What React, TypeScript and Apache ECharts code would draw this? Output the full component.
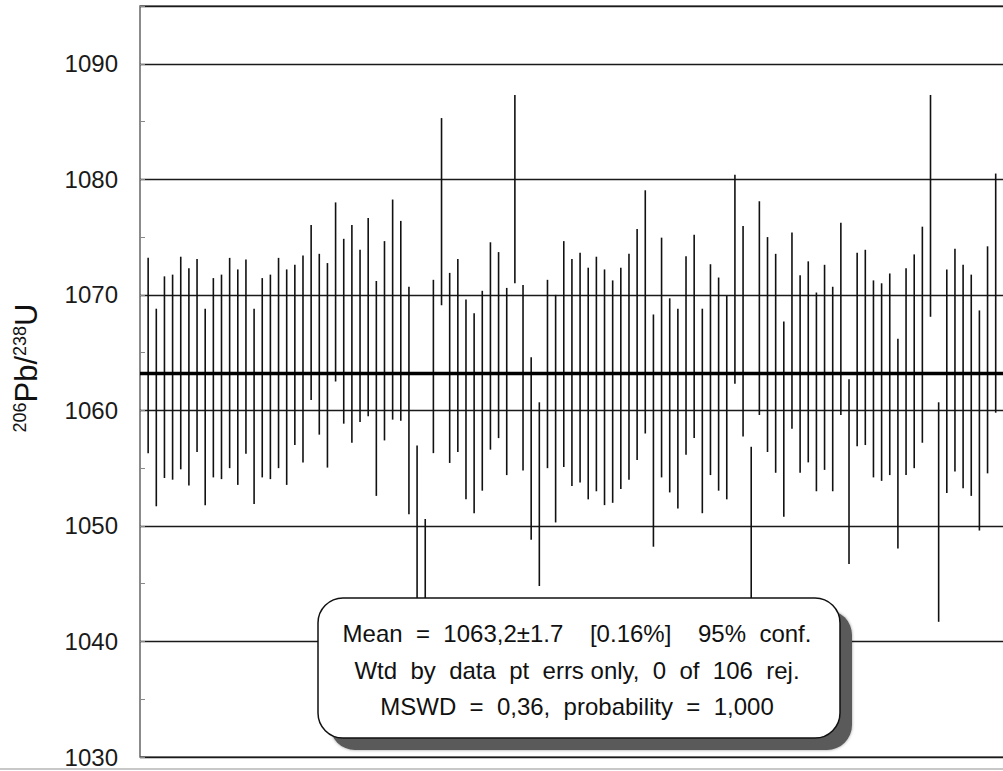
import React, { useEffect, useRef } from "react";
import * as echarts from "echarts";

// Lower and upper ends of each 2-sigma error bar (206Pb/238U age, Ma), analyses 1..106
const lowValues = [
  1056.3, 1051.7, 1054.15, 1054.0, 1054.9, 1053.5, 1056.4, 1051.8, 1054.2, 1054.05,
  1055.0, 1053.55, 1056.25, 1051.9, 1054.2, 1054.05, 1055.0, 1053.55, 1057.0, 1055.5,
  1060.9, 1057.9, 1055.05, 1062.5, 1058.85, 1057.2, 1059.0, 1059.5, 1052.6, 1057.4,
  1059.2, 1059.1, 1051.0, 1040.0, 1034.0, 1056.3, 1069.1, 1055.45, 1056.4, 1052.3,
  1051.1, 1053.05, 1056.6, 1057.6, 1054.4, 1071.0, 1054.8, 1048.8, 1044.8, 1055.0,
  1050.3, 1055.1, 1053.45, 1053.75, 1052.3, 1053.0, 1051.8, 1052.0, 1053.2, 1054.0,
  1055.7, 1058.0, 1048.2, 1054.2, 1052.9, 1051.5, 1056.15, 1057.6, 1051.1, 1054.4,
  1053.05, 1052.3, 1062.3, 1057.75, 1040.0, 1059.6, 1056.4, 1054.6, 1050.8, 1058.4,
  1054.6, 1055.5, 1053.0, 1054.85, 1053.0, 1059.6, 1046.7, 1056.9, 1057.0, 1054.2,
  1053.9, 1054.4, 1048.05, 1054.4, 1055.0, 1057.2, 1068.1, 1041.7, 1052.85, 1054.7,
  1053.25, 1052.6, 1049.6, 1054.55, 1059.8, 1054.0,
];
const highValues = [
  1073.2, 1068.8, 1071.6, 1071.75, 1073.3, 1072.3, 1073.1, 1068.8, 1071.45, 1071.75,
  1073.2, 1072.2, 1073.05, 1068.8, 1071.45, 1071.75, 1073.2, 1072.2, 1072.6, 1073.4,
  1076.05, 1073.55, 1072.75, 1078.0, 1074.85, 1076.05, 1073.9, 1076.65, 1071.2, 1074.65,
  1078.25, 1076.4, 1070.7, 1056.95, 1050.6, 1071.3, 1085.3, 1071.9, 1073.1, 1069.6,
  1068.4, 1070.35, 1074.55, 1073.7, 1070.6, 1087.3, 1070.85, 1064.6, 1060.7, 1071.3,
  1070.0, 1074.65, 1073.1, 1073.65, 1072.35, 1073.3, 1072.2, 1071.25, 1072.35, 1073.55,
  1075.7, 1079.05, 1068.3, 1074.95, 1069.7, 1068.8, 1073.35, 1075.2, 1068.8, 1072.65,
  1071.5, 1069.9, 1080.4, 1075.95, 1056.85, 1078.1, 1075.0, 1073.55, 1067.7, 1075.4,
  1071.7, 1072.9, 1070.2, 1072.6, 1070.7, 1076.25, 1062.7, 1073.65, 1073.9, 1071.25,
  1071.0, 1071.85, 1066.2, 1072.3, 1073.5, 1075.9, 1087.3, 1060.7, 1072.2, 1074.0,
  1072.6, 1071.75, 1068.65, 1074.2, 1080.5, 1072.0,
];
const meanValue = 1063.2;
const yMin = 1030;
const yMax = 1095;
const yInterval = 10;
const xMin = 0;
const xMax = 107;
const yAxisTitleRich = "{s|206}{b|Pb/}{s|238}{b|U}";
const boxLines = [
  "Mean\u00a0\u00a0=\u00a0\u00a01063,2±1.7\u00a0\u00a0\u00a0\u00a0[0.16%]\u00a0\u00a0\u00a0\u00a095%\u00a0\u00a0conf.",
  "Wtd\u00a0\u00a0by\u00a0\u00a0data\u00a0\u00a0pt\u00a0\u00a0errs\u00a0only,\u00a0\u00a00\u00a0\u00a0of\u00a0\u00a0106\u00a0\u00a0rej.",
  "MSWD\u00a0\u00a0=\u00a0\u00a00,36,\u00a0\u00a0probability\u00a0\u00a0=\u00a0\u00a01,000",
];

const FONT = "'Liberation Sans', Arial, Helvetica, sans-serif";

export default function App() {
  const ref = useRef<HTMLDivElement>(null);

  useEffect(() => {
    document.body.style.margin = "0";
    const chart = echarts.init(ref.current as HTMLDivElement, null, { renderer: "svg" });
    const barData = lowValues.map((lo, i) => [i + 1, lo, highValues[i]]);

    chart.setOption({
      animation: false,
      backgroundColor: "#ffffff",
      grid: {
        left: 140,
        top: 6,
        width: 872,
        height: 751,
        show: true,
        borderColor: "#666",
        borderWidth: 1.5,
        backgroundColor: "transparent",
        outerBoundsMode: "none",
      },
      xAxis: { type: "value", min: xMin, max: xMax, show: false },
      yAxis: {
        type: "value",
        min: yMin,
        max: yMax,
        interval: yInterval,
        axisLine: { show: false },
        axisTick: { show: true, inside: true, length: 5, lineStyle: { color: "#888" } },
        minorTick: { show: true, splitNumber: 2, length: 5, lineStyle: { color: "#888" } },
        axisLabel: {
          margin: 22,
          fontSize: 24,
          fontFamily: FONT,
          color: "#1a1a1a",
          formatter: (v: number) => (v % yInterval === 0 ? String(v) : ""),
        },
        splitLine: { show: true, lineStyle: { color: "#1a1a1a", width: 1.3 } },
      },
      series: [
        {
          type: "custom",
          data: barData,
          encode: { x: 0, y: [1, 2] },
          clip: true,
          renderItem: (params: any, api: any) => {
            const x = api.value(0);
            const p1 = api.coord([x, api.value(1)]);
            const p2 = api.coord([x, api.value(2)]);
            return {
              type: "line",
              shape: { x1: p1[0], y1: p1[1], x2: p2[0], y2: p2[1] },
              style: { stroke: "#111", lineWidth: 1.6 },
            };
          },
          z: 2,
        },
        {
          type: "line",
          data: [
            [xMin, meanValue],
            [xMax, meanValue],
          ],
          symbol: "none",
          lineStyle: { color: "#000", width: 3.5 },
          silent: true,
          z: 3,
        },
      ],
      graphic: [
        {
          type: "text",
          x: 26,
          y: 368,
          rotation: Math.PI / 2,
          style: {
            text: yAxisTitleRich,
            align: "center",
            verticalAlign: "middle",
            fill: "#111",
            rich: {
              b: { fontSize: 31, fontFamily: FONT, fill: "#111" },
              s: { fontSize: 18, fontFamily: FONT, verticalAlign: "top", fill: "#111" },
            },
          },
        },
        {
          type: "rect",
          shape: { x: 330, y: 610, width: 522, height: 140, r: 25 },
          style: { fill: "#5a5a5a", shadowBlur: 3, shadowColor: "rgba(0,0,0,0.4)" },
          z: 100,
        },
        {
          type: "rect",
          shape: { x: 318, y: 598, width: 522, height: 140, r: 25 },
          style: { fill: "#fff", stroke: "#111", lineWidth: 1.5 },
          z: 101,
        },
        {
          type: "text",
          x: 577,
          y: 670,
          style: {
            text: boxLines.join("\n"),
            fontSize: 24,
            lineHeight: 36.5,
            fontFamily: FONT,
            align: "center",
            verticalAlign: "middle",
            fill: "#111",
          },
          z: 102,
        },
        {
          type: "line",
          shape: { x1: 0, y1: 769, x2: 1003, y2: 769 },
          style: { stroke: "#c8c8c8", lineWidth: 2 },
          z: 50,
        },
      ],
    });

    return () => chart.dispose();
  }, []);

  return <div ref={ref} style={{ width: 1003, height: 771 }} />;
}
